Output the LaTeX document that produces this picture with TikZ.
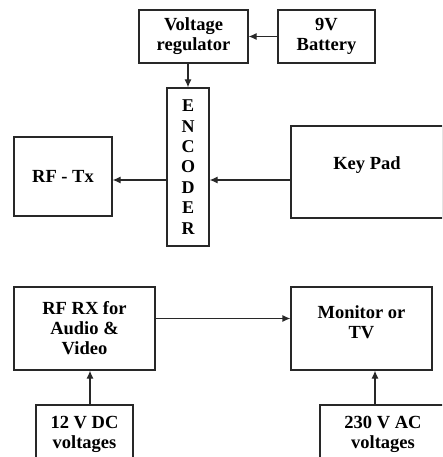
\documentclass[tikz,border=0pt]{standalone}
\usepackage{fontspec}
\setmainfont{Liberation Serif}
\usepackage{tikz}
\usetikzlibrary{positioning, arrows.meta, calc}
\definecolor{boxline}{RGB}{40, 40, 40}

\begin{document}
\begin{tikzpicture}[x=1pt, y=-1pt, >={Latex[length=8pt, width=7pt]},
      font=\fontsize{18.5}{20}\selectfont\bfseries,
      blk/.style={draw=boxline, line width=1.2pt, align=center, inner sep=2pt},
      link/.style={->, line width=1.2pt, draw=boxline}]

    \useasboundingbox (0,0) rectangle (442,457);
    \clip (0,0) rectangle (442,457);

    %% ---- transmitter side ---------------------------------------------
    \node[blk, minimum width=109, minimum height=53] (vreg) at (193.5,36.5) {Voltage\\regulator};
    \node[blk, minimum width=97, minimum height=53]  (batt) at (326.5,36.5) {9V\\Battery};
    \node[blk, minimum width=42, minimum height=158, font=\fontsize{18}{20.4}\selectfont\bfseries]
      (enc) at (188,167) {E\\N\\C\\O\\D\\E\\R};
    \node[blk, minimum width=98, minimum height=79]  (rftx) at (63,176.5) {RF - Tx};
    \node[blk, minimum width=152, minimum height=92, text depth=18pt] (keypad) at (367,172) {Key Pad};

    \draw[link] (batt.west) -- (vreg.east);
    \draw[link] (vreg.south -| enc.north) -- (enc.north);
    \draw[link] ([yshift=-8pt]keypad.west) -- ([yshift=-8pt]keypad.west -| enc.east);
    \draw[link] ([yshift=-8pt]keypad.west -| enc.west) -- ([yshift=-8pt]keypad.west -| rftx.east);

    %% ---- receiver side ------------------------------------------------
    \node[blk, minimum width=141, minimum height=83] (rfrx) at (84.5,328.5) {RF RX for\\Audio \&\\Video};
    \node[blk, minimum width=141, minimum height=83, text depth=12pt] (mon) at (361.5,328.5) {Monitor or\\TV};
    \node[blk, minimum width=97, minimum height=58]  (dc) at (84.5,434) {12 V DC\\voltages};
    \node[blk, minimum width=126, minimum height=58] (ac) at (383,434) {230 V AC\\voltages};

    \draw[link] ([yshift=10pt]rfrx.east) -- ([yshift=10pt]mon.west);
    \draw[link] ([xshift=5.5pt]dc.north) -- ([xshift=5.5pt]dc.north |- rfrx.south);
    \draw[link] ([xshift=-8pt]ac.north) -- ([xshift=-8pt]ac.north |- mon.south);
  \end{tikzpicture}
\end{document}
